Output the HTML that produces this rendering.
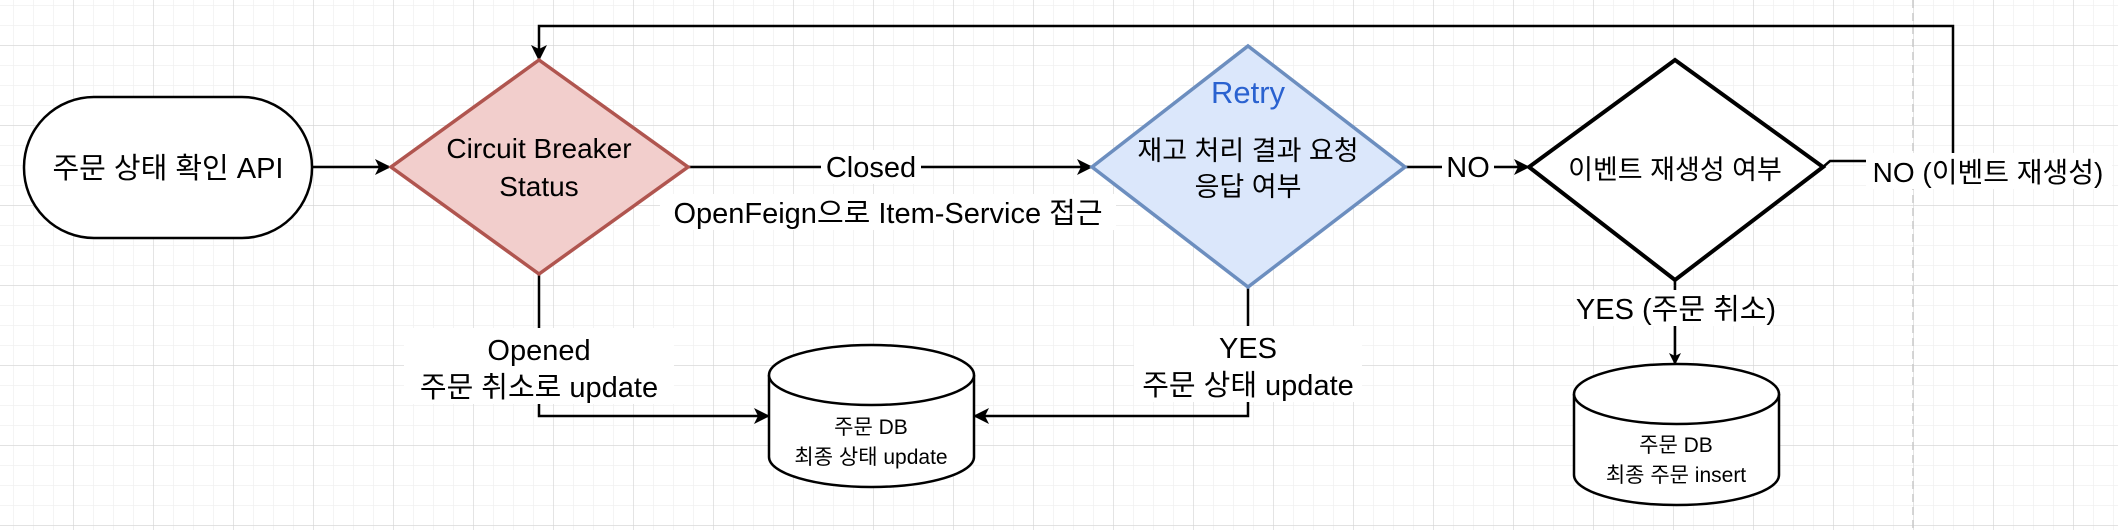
<!DOCTYPE html>
<html><head><meta charset="utf-8"><style>
html,body{margin:0;padding:0;background:#fff;}
svg{display:block;}
text{font-family:"Liberation Sans","Noto Sans CJK KR",sans-serif;fill:#000;}
</style></head><body>
<svg width="2118" height="530" viewBox="0 0 2118 530" xmlns="http://www.w3.org/2000/svg">
<defs>
<pattern id="minor" x="13" y="5" width="20" height="20" patternUnits="userSpaceOnUse">
<path d="M0 0H20M0 0V20" stroke="#f0f0f0" stroke-width="1.5" fill="none"/>
</pattern>
<pattern id="major" x="73" y="45" width="80" height="80" patternUnits="userSpaceOnUse">
<path d="M0 0H80M0 0V80" stroke="#d6d6d6" stroke-width="1.2" fill="none"/>
</pattern>
<marker id="ar" markerWidth="12" markerHeight="12" refX="10" refY="6" orient="auto" markerUnits="userSpaceOnUse" viewBox="0 0 12 12">
<path d="M0 0L12 6L0 12L3 6Z" fill="#000"/>
</marker>
<marker id="ar2" markerWidth="16" markerHeight="16" refX="14" refY="8" orient="auto" markerUnits="userSpaceOnUse" viewBox="0 0 16 16">
<path d="M0 0L16 8L0 16L4 8Z" fill="#000"/>
</marker>
</defs>
<rect width="2118" height="530" fill="url(#minor)"/>
<rect width="2118" height="530" fill="url(#major)"/>
<line x1="1913" y1="0" x2="1913" y2="530" stroke="#c8c8c8" stroke-width="1.5" stroke-dasharray="8,5"/>

<g stroke="#000" stroke-width="2.5" fill="none">
<line x1="313" y1="167" x2="389" y2="167" marker-end="url(#ar2)"/>
<line x1="688" y1="167" x2="1091" y2="167" marker-end="url(#ar2)"/>
<line x1="1405" y1="167" x2="1528" y2="167" marker-end="url(#ar2)"/>
<polyline points="1823,167 1830,161 1953,161 1953,26 539,26 539,59" marker-end="url(#ar2)"/>
<polyline points="539,274 539,416 768,416" marker-end="url(#ar2)"/>
<polyline points="1248,287 1248,416 975,416" marker-end="url(#ar2)"/>
<line x1="1675" y1="280" x2="1675" y2="363" marker-end="url(#ar)"/>
</g>

<rect x="24" y="97" width="288" height="141" rx="70" ry="70" fill="#fff" stroke="#000" stroke-width="2.5"/>
<text x="168" y="178" font-size="29" text-anchor="middle">주문 상태 확인 API</text>

<polygon points="539,60 688,167 539,274 391,167" fill="#f2cecc" stroke="#b0554f" stroke-width="3.5"/>
<text x="539" y="158" font-size="28" text-anchor="middle">Circuit Breaker</text>
<text x="539" y="196" font-size="28" text-anchor="middle">Status</text>

<polygon points="1248,46 1405,167 1248,287 1092,167" fill="#dbe7fb" stroke="#6c8ebf" stroke-width="3.5"/>
<text x="1248" y="103" font-size="31" text-anchor="middle" style="fill:#2a62d0">Retry</text>
<text x="1248" y="160" font-size="27" text-anchor="middle">재고 처리 결과 요청</text>
<text x="1248" y="196" font-size="27" text-anchor="middle">응답 여부</text>

<polygon points="1675,60 1823,167 1675,280 1529,167" fill="#fff" stroke="#000" stroke-width="4"/>
<text x="1675" y="179" font-size="27" text-anchor="middle">이벤트 재생성 여부</text>

<path d="M769 375 L769 457 A102.5 30 0 0 0 974 457 L974 375" fill="#fff" stroke="#000" stroke-width="2.5"/>
<ellipse cx="871.5" cy="375" rx="102.5" ry="30" fill="#fff" stroke="#000" stroke-width="2.5"/>
<text x="871" y="434" font-size="21" text-anchor="middle">주문 DB</text>
<text x="871" y="464" font-size="21" text-anchor="middle">최종 상태 update</text>

<path d="M1574 394 L1574 475 A102.5 30 0 0 0 1779 475 L1779 394" fill="#fff" stroke="#000" stroke-width="2.5"/>
<ellipse cx="1676.5" cy="394" rx="102.5" ry="30" fill="#fff" stroke="#000" stroke-width="2.5"/>
<text x="1676" y="452" font-size="21" text-anchor="middle">주문 DB</text>
<text x="1676" y="482" font-size="21" text-anchor="middle">최종 주문 insert</text>

<rect x="821" y="150" width="100" height="34" fill="#fff"/>
<text x="871" y="177" font-size="29" text-anchor="middle">Closed</text>
<rect x="660" y="194" width="456" height="36" fill="#fff"/>
<text x="888" y="223" font-size="29" text-anchor="middle">OpenFeign으로 Item-Service 접근</text>
<rect x="1442" y="150" width="52" height="34" fill="#fff"/>
<text x="1468" y="177" font-size="29" text-anchor="middle">NO</text>
<rect x="1866" y="153" width="246" height="36" fill="#fff"/>
<text x="1988" y="182" font-size="28" text-anchor="middle">NO (이벤트 재생성)</text>
<rect x="404" y="328" width="270" height="76" fill="#fff"/>
<text x="539" y="360" font-size="29" text-anchor="middle">Opened</text>
<text x="539" y="397" font-size="29" text-anchor="middle">주문 취소로 update</text>
<rect x="1134" y="326" width="228" height="76" fill="#fff"/>
<text x="1248" y="358" font-size="29" text-anchor="middle">YES</text>
<text x="1248" y="395" font-size="29" text-anchor="middle">주문 상태 update</text>
<rect x="1580" y="290" width="192" height="36" fill="#fff"/>
<text x="1676" y="319" font-size="29" text-anchor="middle">YES (주문 취소)</text>
</svg>
</body></html>
